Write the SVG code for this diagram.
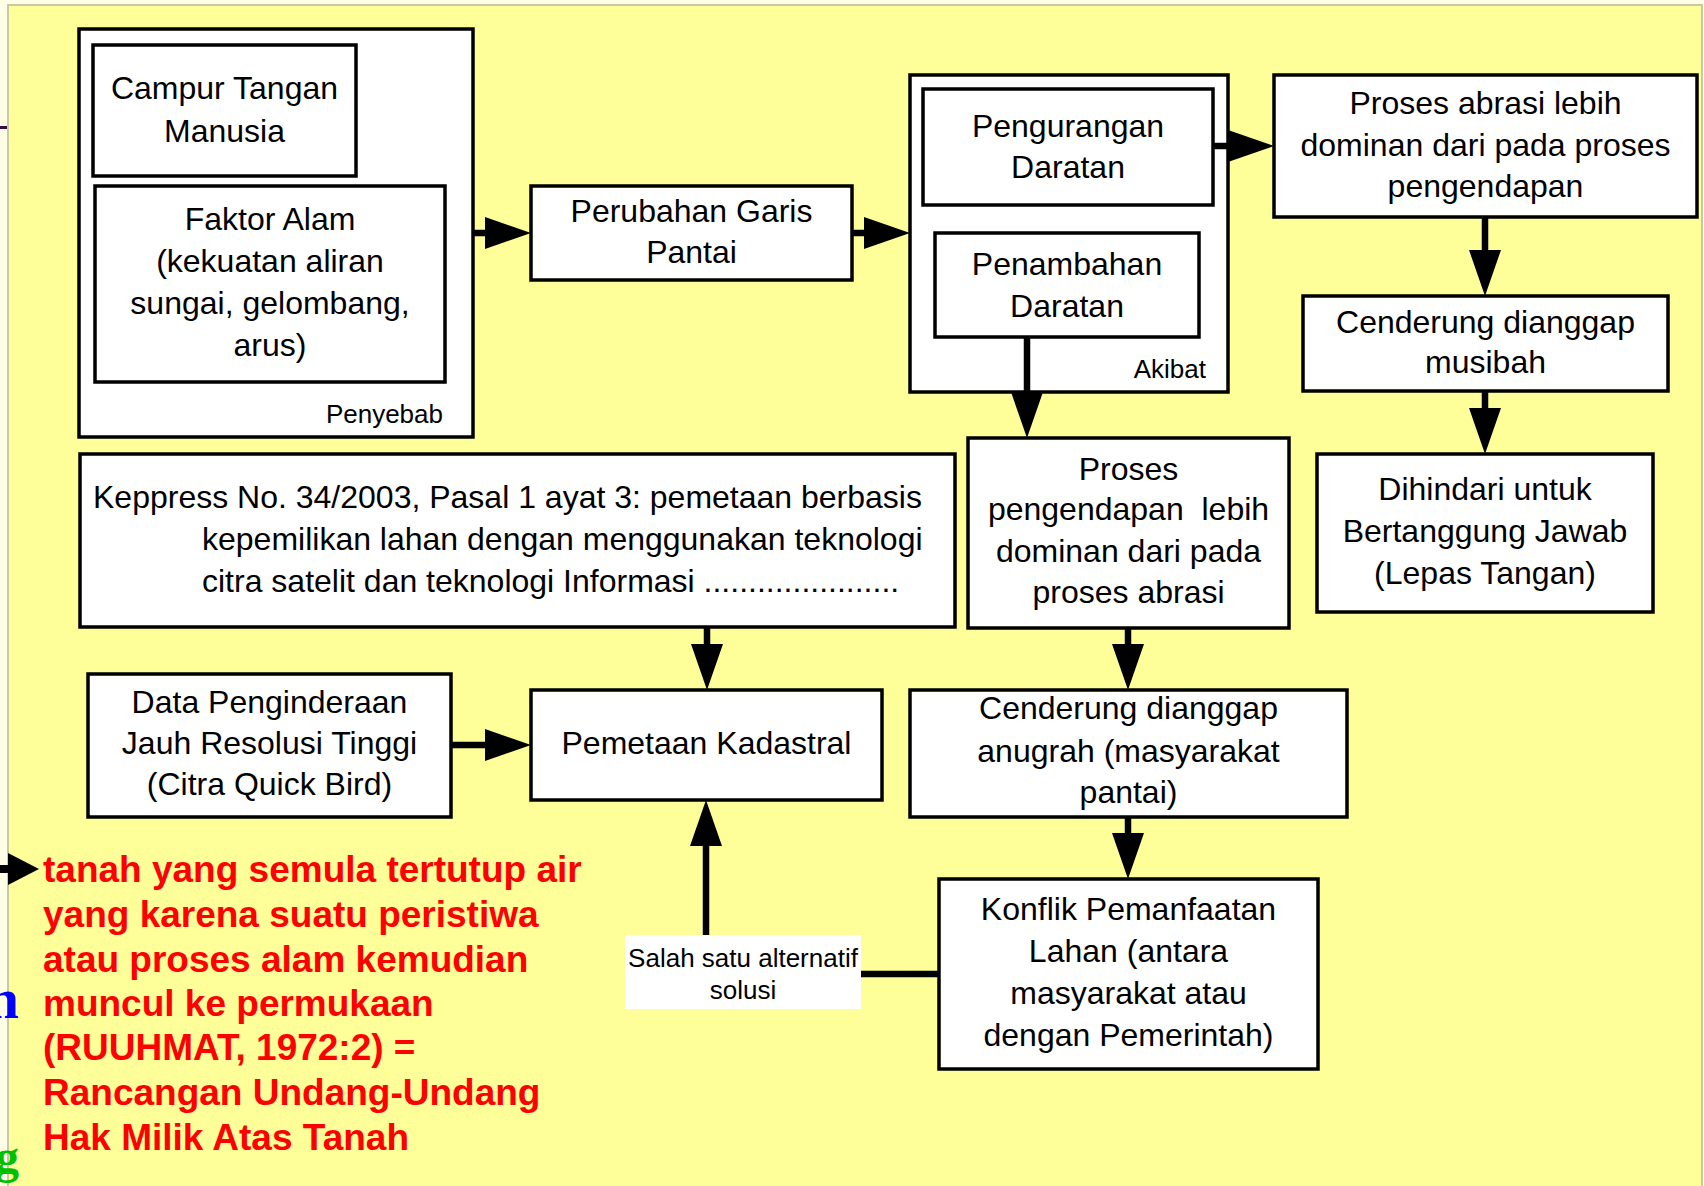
<svg xmlns="http://www.w3.org/2000/svg" width="1704" height="1186" viewBox="0 0 1704 1186">
<defs>
<style>
.box{fill:#fff;stroke:#000;stroke-width:3.5}
.t{font-family:"Liberation Sans",Arial,sans-serif;font-size:32px;text-anchor:middle;fill:#000}
.s{font-size:26px}
.l{text-anchor:start}
.e{text-anchor:end}
.conn{stroke:#000;stroke-width:6.5;fill:none}
.red{font-family:"Liberation Sans",Arial,sans-serif;font-size:37px;font-weight:bold;fill:#FF0000}
.frag{font-family:"Liberation Serif","Times New Roman",serif;font-weight:bold;text-anchor:end}
</style>
<marker id="ah" viewBox="0 0 46 32" refX="0" refY="16" markerWidth="46" markerHeight="32" markerUnits="userSpaceOnUse" orient="auto">
<path d="M0,0 L46,16 L0,32 Z" fill="#000"/>
</marker>
</defs>
<rect x="0" y="0" width="1704" height="1186" fill="#FFFFE8"/>
<rect x="8" y="5" width="1694" height="1185" fill="#FFFF99" stroke="#C8C8A4" stroke-width="2"/>
<rect x="0" y="126" width="7" height="3" fill="#3C0A46"/>

<g id="penyebab">
<rect class="box" x="79" y="29" width="394" height="408"/>
<text class="t s e" x="443" y="423">Penyebab</text>
</g>
<g id="campur">
<rect class="box" x="93" y="45" width="263" height="131"/>
<text class="t" x="224.5" y="99">Campur Tangan</text>
<text class="t" x="224.5" y="142">Manusia</text>
</g>
<g id="faktor">
<rect class="box" x="95" y="186" width="350" height="196"/>
<text class="t" x="270" y="230">Faktor Alam</text>
<text class="t" x="270" y="272">(kekuatan aliran</text>
<text class="t" x="270" y="314">sungai, gelombang,</text>
<text class="t" x="270" y="356">arus)</text>
</g>
<g id="perubahan">
<rect class="box" x="531" y="186" width="321" height="94"/>
<text class="t" x="691.5" y="222">Perubahan Garis</text>
<text class="t" x="691.5" y="263">Pantai</text>
</g>
<g id="akibat">
<rect class="box" x="910" y="75" width="318" height="317"/>
<text class="t s e" x="1206" y="378">Akibat</text>
</g>
<g id="pengurangan">
<rect class="box" x="923" y="89" width="290" height="116"/>
<text class="t" x="1068" y="137">Pengurangan</text>
<text class="t" x="1068" y="178">Daratan</text>
</g>
<g id="penambahan">
<rect class="box" x="935" y="233" width="264" height="104"/>
<text class="t" x="1067" y="275">Penambahan</text>
<text class="t" x="1067" y="317">Daratan</text>
</g>
<g id="abrasi">
<rect class="box" x="1274" y="75" width="423" height="142"/>
<text class="t" x="1485.5" y="114">Proses abrasi lebih</text>
<text class="t" x="1485.5" y="156">dominan dari pada proses</text>
<text class="t" x="1485.5" y="197">pengendapan</text>
</g>
<g id="musibah">
<rect class="box" x="1303" y="296" width="365" height="95"/>
<text class="t" x="1485.5" y="333">Cenderung dianggap</text>
<text class="t" x="1485.5" y="373">musibah</text>
</g>
<g id="dihindari">
<rect class="box" x="1317" y="454" width="336" height="158"/>
<text class="t" x="1485" y="500">Dihindari untuk</text>
<text class="t" x="1485" y="542">Bertanggung Jawab</text>
<text class="t" x="1485" y="584">(Lepas Tangan)</text>
</g>
<g id="keppress">
<rect class="box" x="80" y="454" width="875" height="173"/>
<text class="t l" x="93" y="508">Keppress No. 34/2003, Pasal 1 ayat 3: pemetaan berbasis</text>
<text class="t l" x="202" y="550">kepemilikan lahan dengan menggunakan teknologi</text>
<text class="t l" x="202" y="592">citra satelit dan teknologi Informasi ......................</text>
</g>
<g id="pengendapan">
<rect class="box" x="968" y="438" width="321" height="190"/>
<text class="t" x="1128.5" y="480">Proses</text>
<text class="t" x="1128.5" y="520" xml:space="preserve">pengendapan  lebih</text>
<text class="t" x="1128.5" y="562">dominan dari pada</text>
<text class="t" x="1128.5" y="603">proses abrasi</text>
</g>
<g id="data">
<rect class="box" x="88" y="674" width="363" height="143"/>
<text class="t" x="269.5" y="713">Data Penginderaan</text>
<text class="t" x="269.5" y="754">Jauh Resolusi Tinggi</text>
<text class="t" x="269.5" y="795">(Citra Quick Bird)</text>
</g>
<g id="pemetaan">
<rect class="box" x="531" y="690" width="351" height="110"/>
<text class="t" x="706.5" y="754">Pemetaan Kadastral</text>
</g>
<g id="anugrah">
<rect class="box" x="910" y="690" width="437" height="127"/>
<text class="t" x="1128.5" y="719">Cenderung dianggap</text>
<text class="t" x="1128.5" y="762">anugrah (masyarakat</text>
<text class="t" x="1128.5" y="803">pantai)</text>
</g>
<g id="konflik">
<rect class="box" x="939" y="879" width="379" height="190"/>
<text class="t" x="1128.5" y="920">Konflik Pemanfaatan</text>
<text class="t" x="1128.5" y="962">Lahan (antara</text>
<text class="t" x="1128.5" y="1004">masyarakat atau</text>
<text class="t" x="1128.5" y="1046">dengan Pemerintah)</text>
</g>

<g id="connectors">
<path class="conn" d="M473,233 H485" marker-end="url(#ah)"/>
<path class="conn" d="M852,233 H864" marker-end="url(#ah)"/>
<path class="conn" d="M1213,146 H1228" marker-end="url(#ah)"/>
<path class="conn" d="M1027,337 V392" marker-end="url(#ah)"/>
<path class="conn" d="M1485,217 V250" marker-end="url(#ah)"/>
<path class="conn" d="M1485,391 V408" marker-end="url(#ah)"/>
<path class="conn" d="M707,627 V644" marker-end="url(#ah)"/>
<path class="conn" d="M451,745 H485" marker-end="url(#ah)"/>
<path class="conn" d="M939,974 H706 V846" marker-end="url(#ah)"/>
<path class="conn" d="M1128,628 V644" marker-end="url(#ah)"/>
<path class="conn" d="M1128,817 V833" marker-end="url(#ah)"/>
<path d="M0,869 H9" stroke="#000" stroke-width="8"/>
<path d="M8,853 L39,869 L8,885 Z" fill="#000"/>
<g id="label-salah">
<rect x="625" y="935" width="236" height="74" fill="#fff"/>
<text class="t s" x="743" y="967">Salah satu alternatif</text>
<text class="t s" x="743" y="999">solusi</text>
</g>
</g>

<g id="note">
<text class="red" x="43" y="882">tanah yang semula tertutup air</text>
<text class="red" x="43" y="927">yang karena suatu peristiwa</text>
<text class="red" x="43" y="972">atau proses alam kemudian</text>
<text class="red" x="43" y="1016">muncul ke permukaan</text>
<text class="red" x="43" y="1060">(RUUHMAT, 1972:2) =</text>
<text class="red" x="43" y="1105">Rancangan Undang-Undang</text>
<text class="red" x="43" y="1150">Hak Milik Atas Tanah</text>
</g>
<text class="frag" x="19" y="1018" font-size="58" fill="#0000FF">n</text>
<text class="frag" x="19" y="1173" font-size="48" fill="#00C000">g</text>
</svg>
